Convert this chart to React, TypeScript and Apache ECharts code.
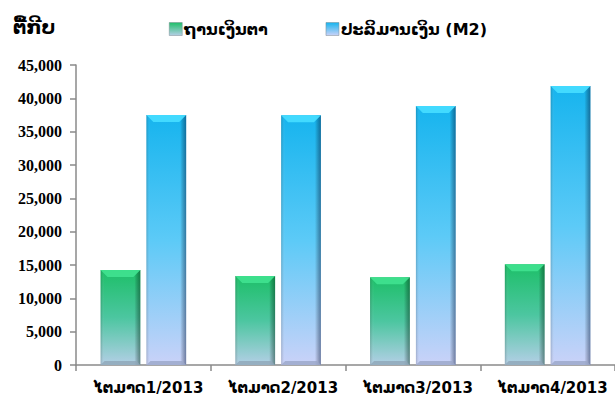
import React, { useEffect, useRef } from "react";
import * as echarts from "echarts";

const categories = ["ໄຕມາດ1/2013", "ໄຕມາດ2/2013", "ໄຕມາດ3/2013", "ໄຕມາດ4/2013"];
const seriesNames = ["ຖານເງິນຕາ", "ປະລິມານເງິນ (M2)"];
const baseMoney = [14250, 13350, 13150, 15100];
const m2 = [37500, 37450, 38850, 41850];
const yTicks = { min: 0, max: 45000, interval: 5000 };

const LAO = "'DejaVu Sans', 'Noto Sans', sans-serif";

const palettes = [
  { top: "#1dbf68", mid: "#4cc6a0", bottom: "#b4cfe6", bevelTop: "#3fe08e", edge: "rgba(0,40,20,0.45)", bevelBottom: "#8fa6b8" },
  { top: "#16b4ee", mid: "#5ccaf7", bottom: "#cad2f8", bevelTop: "#45dcff", edge: "rgba(0,20,60,0.45)", bevelBottom: "#9aa6c8" },
];

function makeRender(idx: number) {
  const p = palettes[idx];
  return (params: any, api: any) => {
    const cat = api.value(0);
    const val = api.value(1);
    const top = api.coord([cat, val]);
    const base = api.coord([cat, 0]);
    const band = api.size([1, 0])[0];
    const w = band * 0.295;
    const gap = band * 0.045;
    const x0 = idx === 0 ? top[0] - gap / 2 - w : top[0] + gap / 2;
    const x1 = x0 + w;
    const y0 = top[1];
    const y1 = base[1];
    const h = y1 - y0;
    const b = Math.min(7, h / 2);
    const edgeW = 6;
    return {
      type: "group",
      children: [
        {
          type: "rect",
          shape: { x: x0, y: y0, width: w, height: h },
          style: {
            fill: new echarts.graphic.LinearGradient(0, 0, 0, 1, [
              { offset: 0, color: p.top },
              { offset: 0.5, color: p.mid },
              { offset: 1, color: p.bottom },
            ]),
          },
        },
        {
          type: "rect",
          shape: { x: x1 - edgeW, y: y0, width: edgeW, height: h },
          style: {
            fill: new echarts.graphic.LinearGradient(0, 0, 1, 0, [
              { offset: 0, color: "rgba(0,0,0,0)" },
              { offset: 1, color: p.edge },
            ]),
          },
        },
        {
          type: "rect",
          shape: { x: x0, y: y0, width: edgeW - 2, height: h },
          style: {
            fill: new echarts.graphic.LinearGradient(0, 0, 1, 0, [
              { offset: 0, color: "rgba(0,0,0,0.18)" },
              { offset: 1, color: "rgba(255,255,255,0)" },
            ]),
          },
        },
        {
          type: "polygon",
          shape: { points: [[x0, y0], [x1, y0], [x1 - b, y0 + b], [x0 + b, y0 + b]] },
          style: { fill: p.bevelTop, opacity: 0.95 },
        },
        {
          type: "polygon",
          shape: { points: [[x0, y1], [x1, y1], [x1 - 4, y1 - 4], [x0 + 4, y1 - 4]] },
          style: { fill: p.bevelBottom, opacity: 0.8 },
        },
      ],
    };
  };
}

export default function App() {
  const ref = useRef<HTMLDivElement>(null);
  useEffect(() => {
    if (!ref.current) return;
    const chart = echarts.init(ref.current, null, { renderer: "svg" });
    const legendColors = [
      new echarts.graphic.LinearGradient(0, 0, 0, 1, [
        { offset: 0, color: palettes[0].top },
        { offset: 1, color: palettes[0].bottom },
      ]),
      new echarts.graphic.LinearGradient(0, 0, 0, 1, [
        { offset: 0, color: palettes[1].top },
        { offset: 1, color: palettes[1].bottom },
      ]),
    ];
    chart.setOption({
      animation: false,
      backgroundColor: "#ffffff",
      title: {
        text: "ຕື້ກີບ",
        left: 8,
        top: 12,
        textStyle: { fontFamily: LAO, fontSize: 19, fontWeight: "bold", color: "#000" },
      },
      legend: {
        left: 164,
        top: 16,
        itemGap: 58,
        itemWidth: 13,
        itemHeight: 13,
        icon: "rect",
        textStyle: { fontFamily: LAO, fontSize: 16, fontWeight: "bold", color: "#000", padding: [0, 0, 0, -3] },
        data: seriesNames.map((n, i) => ({ name: n, itemStyle: { color: legendColors[i], borderColor: "#7a8a90", borderWidth: 0.5 } })),
      },
      grid: { left: 76, right: -7, top: 65, bottom: 40, containLabel: false },
      xAxis: {
        type: "category",
        data: categories,
        boundaryGap: true,
        axisLine: { lineStyle: { color: "#8a8a8a", width: 1.5 } },
        axisTick: { show: true, alignWithLabel: false, interval: 0, length: 6, lineStyle: { color: "#8a8a8a", width: 1.5 } },
        axisLabel: { interval: 0, hideOverlap: false, fontFamily: LAO, fontSize: 15, fontWeight: "bold", color: "#000", margin: 15, padding: [0, 0, 0, 10] },
      },
      yAxis: {
        type: "value",
        min: yTicks.min,
        max: yTicks.max,
        interval: yTicks.interval,
        splitLine: { show: false },
        axisLine: { show: true, lineStyle: { color: "#8a8a8a", width: 1.5 } },
        axisTick: { show: true, length: 6, lineStyle: { color: "#8a8a8a", width: 1.5 } },
        axisLabel: {
          fontFamily: "'Liberation Serif', serif",
          fontSize: 16,
          fontWeight: "bold",
          color: "#000",
          margin: 14,
          formatter: (v: number) => v.toLocaleString("en-US"),
        },
      },
      series: [
        {
          name: seriesNames[0],
          type: "custom",
          itemStyle: { color: palettes[0].top },
          renderItem: makeRender(0),
          encode: { x: 0, y: 1 },
          data: baseMoney.map((v, i) => [i, v]),
          z: 3,
        },
        {
          name: seriesNames[1],
          type: "custom",
          itemStyle: { color: palettes[1].top },
          renderItem: makeRender(1),
          encode: { x: 0, y: 1 },
          data: m2.map((v, i) => [i, v]),
          z: 3,
        },
      ],
    });
    return () => chart.dispose();
  }, []);
  return (
    <div
      ref={ref}
      style={{ position: "absolute", left: 0, top: 0, width: 615, height: 405, background: "#fff" }}
    />
  );
}
